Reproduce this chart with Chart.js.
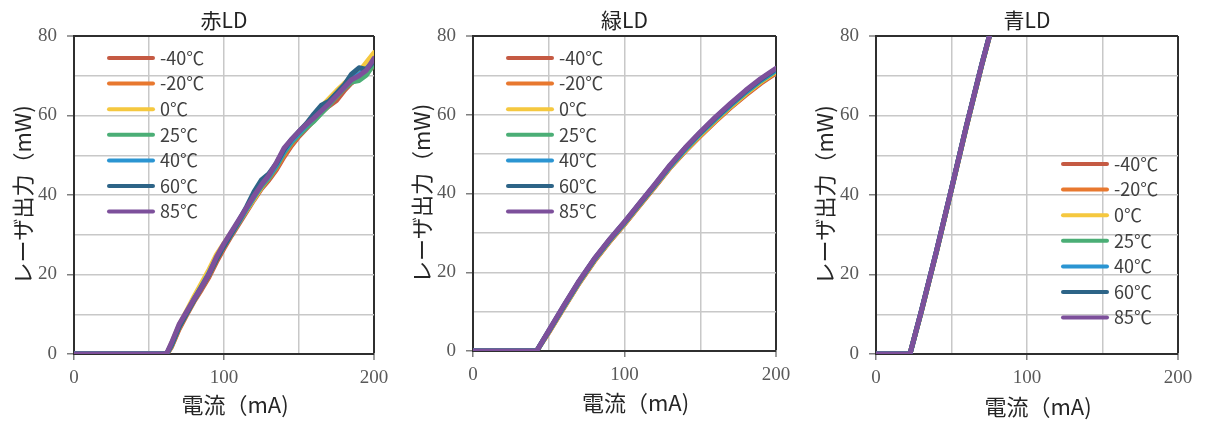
<!DOCTYPE html>
<html>
<head>
<meta charset="utf-8">
<script src="https://cdn.jsdelivr.net/npm/chart.js@4.4.1/dist/chart.umd.min.js"></script>
<style>
  html, body { margin: 0; padding: 0; background: #ffffff; }
  #wrap { position: relative; width: 1206px; height: 423px; overflow: hidden; }
  #wrap canvas { position: absolute; top: 0; }
</style>
</head>
<body>
<div id="wrap">
  <canvas id="redLD" width="400" height="423" style="left:0px"></canvas>
  <canvas id="greenLD" width="400" height="423" style="left:399px"></canvas>
  <canvas id="blueLD" width="400" height="423" style="left:802px"></canvas>
</div>
<script>
// ---- legend labels and colours (one per temperature) ----
const temperatures = ['-40℃', '-20℃', '0℃', '25℃', '40℃', '60℃', '85℃'];
const seriesColors = ['#C55A43', '#E8782F', '#F5C83F', '#4BAE76', '#2B95D2', '#2D6487', '#7D509B'];

// ---- axis ticks ----
const currentTicks = [0, 100, 200];     // labelled current ticks (mA)
const powerTicks = [0, 20, 40, 60, 80];  // labelled power ticks (mW)

// ---- red LD: current (mA) and output power (mW) per temperature ----
const redCurrent = [0, 10, 20, 30, 40, 50, 55, 60, 62, 65, 70, 75, 80, 85, 90, 95, 100, 105, 110, 115, 120, 125, 130, 135, 140, 145, 150, 155, 160, 165, 170, 175, 180, 185, 190, 195, 200];
const redM40 = [0, 0, 0, 0, 0, 0, 0, 0, 0, 1.8, 6.2, 9.8, 13.2, 16.2, 19.4, 23.2, 26.6, 29.8, 32.8, 35.8, 38.8, 41.6, 43.8, 46.4, 49.6, 52.4, 54.8, 56.8, 58.8, 60.8, 62.4, 63.8, 66.2, 68.2, 69.6, 71.0, 72.4];
const redM20 = [0, 0, 0, 0, 0, 0, 0, 0, 0, 2.0, 6.5, 10.0, 13.5, 16.6, 19.8, 23.8, 27.0, 30.2, 33.2, 36.2, 39.2, 42.0, 44.2, 46.8, 50.0, 52.8, 55.2, 57.2, 59.2, 61.2, 63.0, 64.8, 67.0, 68.8, 70.0, 71.6, 73.2];
const red0 = [0, 0, 0, 0, 0, 0, 0, 0, 0.2, 2.6, 7.2, 10.8, 14.4, 17.8, 21.2, 25.0, 27.8, 30.6, 33.4, 36.2, 39.0, 42.0, 44.6, 47.8, 51.2, 53.8, 55.8, 57.8, 60.0, 62.2, 64.2, 66.2, 68.0, 69.6, 71.0, 73.4, 75.8];
const red25 = [0, 0, 0, 0, 0, 0, 0, 0, 0.1, 2.2, 6.8, 10.2, 13.6, 16.8, 20.0, 24.0, 27.2, 30.2, 33.2, 36.4, 39.4, 42.2, 44.4, 47.2, 50.6, 53.2, 55.2, 57.0, 58.6, 60.6, 62.6, 64.8, 66.8, 68.4, 68.8, 70.2, 73.0];
const red40 = [0, 0, 0, 0, 0, 0, 0, 0, 0.2, 2.4, 7.0, 10.4, 13.8, 17.0, 20.4, 24.2, 27.4, 30.4, 33.4, 36.6, 39.6, 42.6, 44.8, 47.6, 51.0, 53.6, 55.6, 57.6, 59.6, 61.6, 63.4, 65.4, 67.4, 69.4, 70.4, 71.8, 73.8];
const red60 = [0, 0, 0, 0, 0, 0, 0, 0, 0.2, 2.3, 6.8, 10.2, 13.6, 16.8, 20.0, 23.8, 27.2, 30.4, 33.6, 37.0, 40.8, 43.8, 45.4, 48.0, 51.4, 54.0, 56.0, 58.0, 60.4, 62.6, 63.6, 65.6, 67.6, 70.4, 72.0, 71.6, 73.6];
const red85 = [0, 0, 0, 0, 0, 0, 0, 0, 0.3, 2.8, 7.4, 10.6, 13.8, 16.8, 20.2, 24.4, 27.8, 30.8, 33.8, 36.8, 39.8, 42.6, 45.0, 48.2, 51.8, 54.0, 56.0, 57.8, 59.4, 61.2, 63.0, 65.0, 67.0, 69.0, 70.0, 71.4, 74.4];

// ---- green LD ----
const greenCurrent = [0, 10, 20, 30, 40, 42, 50, 60, 70, 80, 90, 100, 110, 120, 130, 140, 150, 160, 170, 180, 190, 200];
const greenM40 = [0, 0, 0, 0, 0, 0, 4.7, 11.0, 17.2, 22.8, 27.7, 32.2, 37.0, 41.7, 46.5, 50.7, 54.6, 58.3, 61.8, 65.0, 68.0, 70.6];
const greenM20 = [0, 0, 0, 0, 0, 0, 4.8, 11.1, 17.3, 22.9, 27.8, 32.3, 37.1, 41.8, 46.6, 50.8, 54.7, 58.4, 61.9, 65.2, 68.2, 70.8];
const green0 = [0, 0, 0, 0, 0, 0, 4.9, 11.2, 17.4, 23.0, 27.9, 32.4, 37.2, 41.9, 46.7, 50.9, 54.9, 58.6, 62.1, 65.4, 68.4, 71.0];
const green25 = [0, 0, 0, 0, 0, 0, 5.0, 11.3, 17.5, 23.1, 28.0, 32.5, 37.3, 42.0, 46.8, 51.1, 55.1, 58.8, 62.3, 65.6, 68.6, 71.2];
const green40 = [0, 0, 0, 0, 0, 0, 5.0, 11.4, 17.6, 23.2, 28.1, 32.6, 37.4, 42.1, 46.9, 51.3, 55.3, 59.0, 62.5, 65.8, 68.8, 71.4];
const green60 = [0, 0, 0, 0, 0, 0, 5.1, 11.5, 17.7, 23.3, 28.2, 32.7, 37.5, 42.2, 47.1, 51.5, 55.5, 59.2, 62.7, 66.0, 69.0, 71.6];
const green85 = [0, 0, 0, 0, 0, 0, 5.2, 11.6, 17.8, 23.4, 28.3, 32.8, 37.6, 42.3, 47.2, 51.6, 55.6, 59.4, 62.9, 66.2, 69.2, 71.8];

// ---- blue LD (rises past the top of the axis) ----
const blueCurrent = [0, 10, 20, 22.5, 30, 40, 50, 60, 70, 80];
const blueM40 = [0, 0, 0, 0, 10.6, 25.6, 41.4, 57.4, 72.6, 86.8];
const blueM20 = [0, 0, 0, 0, 10.6, 25.6, 41.4, 57.4, 72.6, 86.8];
const blue0 = [0, 0, 0, 0, 10.7, 25.7, 41.5, 57.5, 72.7, 86.9];
const blue25 = [0, 0, 0, 0, 10.7, 25.7, 41.5, 57.5, 72.7, 86.9];
const blue40 = [0, 0, 0, 0, 10.8, 25.8, 41.6, 57.6, 72.8, 87.0];
const blue60 = [0, 0, 0, 0, 10.8, 25.8, 41.6, 57.6, 72.8, 87.0];
const blue85 = [0, 0, 0, 0, 10.8, 25.8, 41.6, 57.6, 72.8, 87.0];

const SANS = "'Noto Sans CJK JP', 'Noto Sans', sans-serif";
const SERIF = "'Liberation Serif', 'DejaVu Serif', serif";
const FRAME = '#2f2f2f';
const GRID = '#c8c8c8';
const TICK_MARK = '#7f7f7f';
const TICK_TEXT = '#595959';

// Legend drawn inside the plot area: a short thick line followed by the label.
const insideLegend = {
  id: 'insideLegend',
  afterDatasetsDraw(chart, args, opts) {
    const { ctx, chartArea } = chart;
    const x0 = chartArea.left + opts.dx;
    let y = chartArea.top + opts.dy;
    ctx.save();
    ctx.font = opts.font;
    ctx.textBaseline = 'middle';
    ctx.textAlign = 'left';
    ctx.lineCap = 'round';
    chart.data.datasets.forEach(ds => {
      ctx.strokeStyle = ds.borderColor;
      ctx.lineWidth = opts.lineWidth;
      ctx.beginPath();
      ctx.moveTo(x0, y);
      ctx.lineTo(x0 + opts.lineLength, y);
      ctx.stroke();
      ctx.fillStyle = opts.color;
      ctx.fillText(ds.label, x0 + opts.lineLength + opts.gap, y);
      y += opts.rowHeight;
    });
    ctx.restore();
  }
};

function makePanel(id, title, current, seriesList, layout) {
  const n = seriesList.length;
  const datasets = seriesList.map((vals, i) => ({
    label: temperatures[i],
    data: current.map((c, k) => ({ x: c, y: vals[k] })),
    borderColor: seriesColors[i],
    backgroundColor: seriesColors[i],
    borderWidth: 5,
    borderJoinStyle: 'round',
    borderCapStyle: 'round',
    pointRadius: 0,
    tension: 0,
    order: n - 1 - i
  }));

  return new Chart(document.getElementById(id), {
    type: 'line',
    data: { datasets },
    options: {
      responsive: false,
      devicePixelRatio: 1,
      animation: false,
      events: [],
      layout: { padding: { left: 0, right: layout.padRight, top: 0, bottom: 0 } },
      scales: {
        x: {
          type: 'linear',
          min: 0,
          max: 200,
          afterFit: s => { s.height = layout.xAxisHeight; },
          ticks: {
            stepSize: 50,
            autoSkip: false,
            maxRotation: 0,
            padding: 6.5,
            color: TICK_TEXT,
            font: { family: SERIF, size: 19 },
            callback: v => currentTicks.includes(v) ? String(v) : ''
          },
          grid: {
            color: c => (c.tick && c.tick.value === 200) ? FRAME : GRID,
            lineWidth: c => (c.tick && c.tick.value === 200) ? 2 : 1.5,
            tickLength: 6,
            tickWidth: 1.5,
            tickColor: c => (c.tick && currentTicks.includes(c.tick.value)) ? TICK_MARK : 'rgba(0,0,0,0)'
          },
          border: { color: FRAME, width: 2 },
          title: {
            display: true,
            text: '\u3000電流（mA)',
            color: '#262626',
            font: { family: SANS, size: 22 },
            padding: { top: 0, bottom: layout.xTitlePad }
          }
        },
        y: {
          type: 'linear',
          min: 0,
          max: 80,
          afterFit: s => { s.width = 74; },
          ticks: {
            stepSize: 10,
            autoSkip: false,
            padding: 10,
            color: TICK_TEXT,
            font: { family: SERIF, size: 19 },
            callback: v => powerTicks.includes(v) ? String(v) : ''
          },
          grid: {
            color: c => (c.tick && c.tick.value === 80) ? FRAME : GRID,
            lineWidth: c => (c.tick && c.tick.value === 80) ? 2 : 1.5,
            tickLength: 7,
            tickWidth: 1.5,
            tickColor: c => (c.tick && powerTicks.includes(c.tick.value)) ? TICK_MARK : 'rgba(0,0,0,0)'
          },
          border: { color: FRAME, width: 2 },
          title: {
            display: true,
            text: 'レーザ出力（mW)',
            color: '#262626',
            font: { family: SANS, size: 22 },
            padding: { top: 9, bottom: 0 }
          }
        }
      },
      plugins: {
        legend: { display: false },
        tooltip: { enabled: false },
        title: {
          display: true,
          text: title,
          fullSize: false,
          color: '#222222',
          font: { family: SANS, size: 21, weight: 'normal' },
          padding: { top: 7.4, bottom: 3.4 }
        },
        insideLegend: {
          dx: layout.legendDx,
          dy: 22,
          lineLength: 44,
          lineWidth: 4,
          gap: 7,
          rowHeight: 25.6,
          font: '18px ' + SANS,
          color: '#404040'
        }
      }
    },
    plugins: [insideLegend]
  });
}

makePanel('redLD', '赤LD', redCurrent,
  [redM40, redM20, red0, red25, red40, red60, red85],
  { padRight: 26, xAxisHeight: 69, xTitlePad: 5, legendDx: 35 });

makePanel('greenLD', '緑LD', greenCurrent,
  [greenM40, greenM20, green0, green25, green40, green60, green85],
  { padRight: 23, xAxisHeight: 72, xTitlePad: 7, legendDx: 35 });

const blueChart = makePanel('blueLD', '青LD', blueCurrent,
  [blueM40, blueM20, blue0, blue25, blue40, blue60, blue85],
  { padRight: 24, xAxisHeight: 69, xTitlePad: 3, legendDx: 187 });
blueChart.options.plugins.insideLegend.dy = 128;
blueChart.update('none');
</script>
</body>
</html>
